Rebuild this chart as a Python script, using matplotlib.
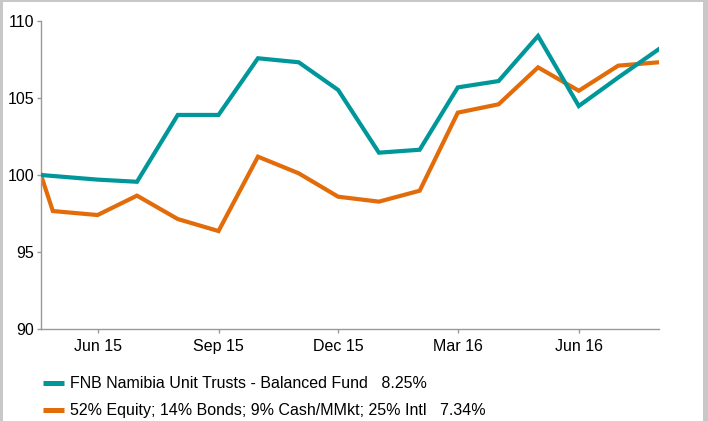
import matplotlib
matplotlib.use("Agg")
import matplotlib.pyplot as plt
from matplotlib.patches import Rectangle
from matplotlib.lines import Line2D
import datetime as dt

plt.rcParams['font.family'] = ['Liberation Sans', 'DejaVu Sans']

# ---- data ----
teal_dates = ["2015-04-19", "2015-06-01", "2015-07-01", "2015-08-01", "2015-09-01",
              "2015-10-01", "2015-11-01", "2015-12-01", "2016-01-01", "2016-02-01",
              "2016-03-01", "2016-04-01", "2016-05-01", "2016-06-01", "2016-07-01",
              "2016-08-01"]
teal_values = [100.0, 99.7, 99.56, 103.9, 103.9, 107.58, 107.32, 105.52, 101.45,
               101.64, 105.69, 106.1, 109.03, 104.48, 106.33, 108.18]

orange_dates = ["2015-04-19", "2015-04-28", "2015-06-01", "2015-07-01", "2015-08-01",
                "2015-09-01", "2015-10-01", "2015-11-01", "2015-12-01", "2016-01-01",
                "2016-02-01", "2016-03-01", "2016-04-01", "2016-05-01", "2016-06-01",
                "2016-07-01", "2016-08-01"]
orange_values = [100.0, 97.66, 97.4, 98.66, 97.14, 96.36, 101.19, 100.11, 98.59, 98.27,
                 98.98, 104.05, 104.59, 106.99, 105.47, 107.1, 107.32]

series_labels = ["FNB Namibia Unit Trusts - Balanced Fund   8.25%",
                 "52% Equity; 14% Bonds; 9% Cash/MMkt; 25% Intl   7.34%"]
tick_dates = ["2015-06-01", "2015-09-01", "2015-12-01", "2016-03-01", "2016-06-01"]
tick_labels = ["Jun 15", "Sep 15", "Dec 15", "Mar 16", "Jun 16"]
y_ticks = [90, 95, 100, 105, 110]

TEAL = "#00979A"
ORANGE = "#E36C0A"
GRAY = "#999999"

W, H = 708, 421
fig = plt.figure(figsize=(W / 100, H / 100), dpi=100)

def parse(lst):
    return [dt.datetime.strptime(s, "%Y-%m-%d") for s in lst]

# axes placement in pixels
x0, x1 = 41, 659
y_top, y_bot = 21, 329
ax = fig.add_axes([x0 / W, 1 - y_bot / H, (x1 - x0) / W, (y_bot - y_top) / H])

td = parse(teal_dates)
od = parse(orange_dates)
ax.plot(td, teal_values, color=TEAL, lw=3.0, solid_joinstyle='miter', zorder=3)
ax.plot(od, orange_values, color=ORANGE, lw=3.0, solid_joinstyle='miter', zorder=2)

ax.set_xlim(od[0], od[-1])
ax.set_ylim(90, 110)
ax.set_yticks(y_ticks)
ax.set_yticklabels([str(v) for v in y_ticks])
ax.set_xticks(parse(tick_dates))
ax.set_xticklabels(tick_labels)

for s in ["top", "right"]:
    ax.spines[s].set_visible(False)
for s in ["left", "bottom"]:
    ax.spines[s].set_color(GRAY)
    ax.spines[s].set_linewidth(1.0)
ax.tick_params(axis='both', colors=GRAY, labelcolor='black', labelsize=11.5,
               length=3, width=1.0)
ax.tick_params(axis='y', pad=2)
ax.tick_params(axis='x', pad=4.5)
ax.patch.set_visible(False)

# legend (manual)
for i, (lab, col) in enumerate(zip(series_labels, [TEAL, ORANGE])):
    yy = 1 - (383 + 27 * i) / H
    fig.add_artist(Line2D([43 / W, 64 / W], [yy, yy], color=col, lw=3.6,
                          solid_capstyle='butt', transform=fig.transFigure))
    fig.text(70 / W, yy, lab, fontsize=11.5, va='center', ha='left')

# frame border (screenshot style)
border = "#C8C8C8"
fig.add_artist(Rectangle((0, 0), 3 / W, 1, transform=fig.transFigure,
                         color=border, lw=0))
fig.add_artist(Rectangle((703 / W, 0), 5 / W, 1, transform=fig.transFigure,
                         color=border, lw=0))
fig.add_artist(Rectangle((0, 1 - 1.5 / H), 1, 1.5 / H, transform=fig.transFigure,
                         color=border, lw=0))

fig.savefig("out.png", dpi=100)
